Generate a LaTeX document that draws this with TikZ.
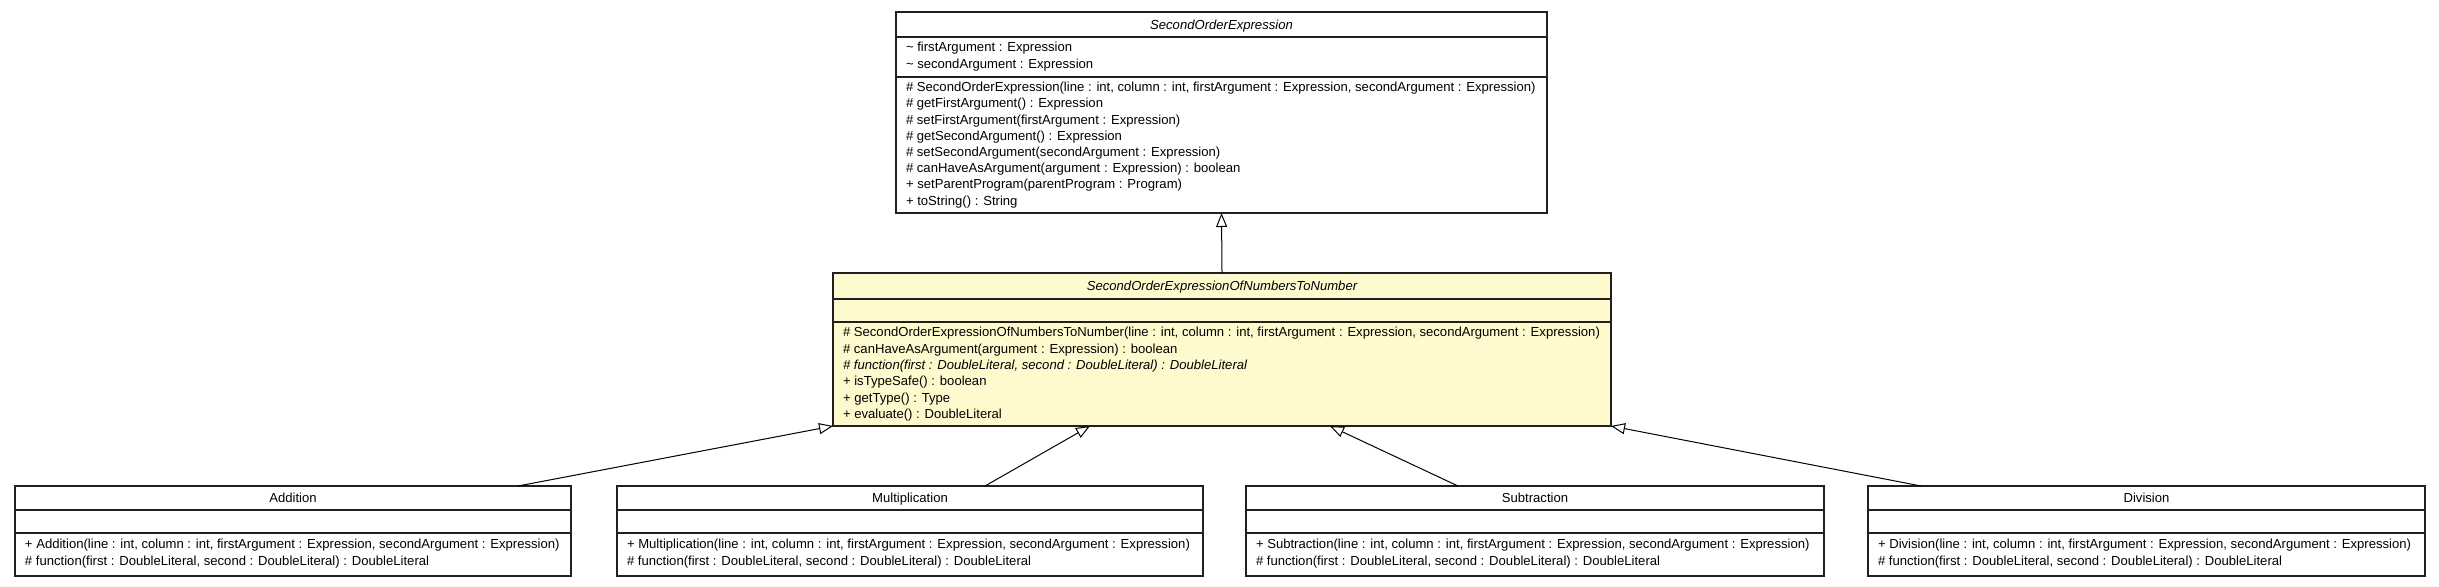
\documentclass[tikz,border=0pt]{standalone}
\usepackage{fontspec}
\setmainfont{Liberation Sans}
\usetikzlibrary{arrows.meta,calc}
\definecolor{notefill}{HTML}{FFFACD}
\definecolor{edge}{HTML}{202020}
\begin{document}
\begin{tikzpicture}[x=0.5pt,y=-0.5pt,
  every node/.style={font=\fontsize{6.55pt}{8pt}\selectfont, inner sep=0pt, outer sep=0pt},
  classbox/.style={draw=edge, line width=0.65pt, anchor=north west, fill=white},
  abstractbox/.style={classbox, fill=notefill},
  sepline/.style={draw=edge, line width=0.65pt},
  mem/.style={anchor=base west},
  amem/.style={anchor=base west, font=\fontsize{6.55pt}{8pt}\selectfont\itshape},
  ttl/.style={anchor=base},
  attl/.style={anchor=base, font=\fontsize{6.55pt}{8pt}\selectfont\itshape},
  gen/.style={-{Triangle[length=7pt,width=5.5pt,fill=white]}, line width=0.5pt, draw=black}
]
\useasboundingbox (0,0) rectangle (2439,587);

% ---------------- SecondOrderExpression ----------------
\node[classbox, minimum width=325.5pt, minimum height=100.5pt] (soe) at (896,12) {};
\draw[sepline] (896,37) -- (1547,37);
\draw[sepline] (896,77) -- (1547,77);
\node[attl] (soe-t) at (1221.5,29.3) {SecondOrderExpression};
\node[mem] (soe-a1) at (906,52) {\textasciitilde{} firstArgument : Expression};
\node[mem] (soe-a2) at (906,68.2) {\textasciitilde{} secondArgument : Expression};
\node[mem] (soe-m1) at (906,91.8) {\# SecondOrderExpression(line : int, column : int, firstArgument : Expression, secondArgument : Expression)};
\node[mem] (soe-m2) at (906,108) {\# getFirstArgument() : Expression};
\node[mem] (soe-m3) at (906,124.2) {\# setFirstArgument(firstArgument : Expression)};
\node[mem] (soe-m4) at (906,140.4) {\# getSecondArgument() : Expression};
\node[mem] (soe-m5) at (906,156.6) {\# setSecondArgument(secondArgument : Expression)};
\node[mem] (soe-m6) at (906,172.8) {\# canHaveAsArgument(argument : Expression) : boolean};
\node[mem] (soe-m7) at (906,189) {+ setParentProgram(parentProgram : Program)};
\node[mem] (soe-m8) at (906,205.2) {+ toString() : String};

% ---------------- SecondOrderExpressionOfNumbersToNumber ----------------
\node[abstractbox, minimum width=389pt, minimum height=76.5pt] (soen) at (833,273) {};
\draw[sepline] (833,299) -- (1611,299);
\draw[sepline] (833,322) -- (1611,322);
\node[attl] (soen-t) at (1222,290.8) {SecondOrderExpressionOfNumbersToNumber};
\node[mem] (soen-m1) at (843,336.8) {\# SecondOrderExpressionOfNumbersToNumber(line : int, column : int, firstArgument : Expression, secondArgument : Expression)};
\node[mem] (soen-m2) at (843,353.1) {\# canHaveAsArgument(argument : Expression) : boolean};
\node[amem] (soen-m3) at (843,369.4) {\# function(first : DoubleLiteral, second : DoubleLiteral) : DoubleLiteral};
\node[mem] (soen-m4) at (843,385.7) {+ isTypeSafe() : boolean};
\node[mem] (soen-m5) at (843,402) {+ getType() : Type};
\node[mem] (soen-m6) at (843,418.3) {+ evaluate() : DoubleLiteral};

% ---------------- Addition ----------------
\node[classbox, minimum width=278pt, minimum height=45pt] (add) at (15,486) {};
\draw[sepline] (15,510) -- (571,510);
\draw[sepline] (15,533) -- (571,533);
\node[ttl] (add-t) at (293,502.8) {Addition};
\node[mem] (add-m1) at (25,548.8) {+ Addition(line : int, column : int, firstArgument : Expression, secondArgument : Expression)};
\node[mem] (add-m2) at (25,565.1) {\# function(first : DoubleLiteral, second : DoubleLiteral) : DoubleLiteral};

% ---------------- Multiplication ----------------
\node[classbox, minimum width=293pt, minimum height=45pt] (mul) at (617,486) {};
\draw[sepline] (617,510) -- (1203,510);
\draw[sepline] (617,533) -- (1203,533);
\node[ttl] (mul-t) at (910,502.8) {Multiplication};
\node[mem] (mul-m1) at (627,548.8) {+ Multiplication(line : int, column : int, firstArgument : Expression, secondArgument : Expression)};
\node[mem] (mul-m2) at (627,565.1) {\# function(first : DoubleLiteral, second : DoubleLiteral) : DoubleLiteral};

% ---------------- Subtraction ----------------
\node[classbox, minimum width=289pt, minimum height=45pt] (sub) at (1246,486) {};
\draw[sepline] (1246,510) -- (1824,510);
\draw[sepline] (1246,533) -- (1824,533);
\node[ttl] (sub-t) at (1535,502.8) {Subtraction};
\node[mem] (sub-m1) at (1256,548.8) {+ Subtraction(line : int, column : int, firstArgument : Expression, secondArgument : Expression)};
\node[mem] (sub-m2) at (1256,565.1) {\# function(first : DoubleLiteral, second : DoubleLiteral) : DoubleLiteral};

% ---------------- Division ----------------
\node[classbox, minimum width=278.5pt, minimum height=45pt] (div) at (1868,486) {};
\draw[sepline] (1868,510) -- (2425,510);
\draw[sepline] (1868,533) -- (2425,533);
\node[ttl] (div-t) at (2146.5,502.8) {Division};
\node[mem] (div-m1) at (1878,548.8) {+ Division(line : int, column : int, firstArgument : Expression, secondArgument : Expression)};
\node[mem] (div-m2) at (1878,565.1) {\# function(first : DoubleLiteral, second : DoubleLiteral) : DoubleLiteral};

% ---------------- generalizations ----------------
\draw[gen] (soen.north) -- (soe.south);
\draw[gen] ($(add.north west)+(503,0)$) -- (soen.south west);
\draw[gen] ($(mul.north west)+(368,0)$) -- ($(soen.south west)+(257,0)$);
\draw[gen] ($(sub.north west)+(212,0)$) -- ($(soen.south west)+(497,0)$);
\draw[gen] ($(div.north west)+(53,0)$) -- (soen.south east);
\end{tikzpicture}
\end{document}
